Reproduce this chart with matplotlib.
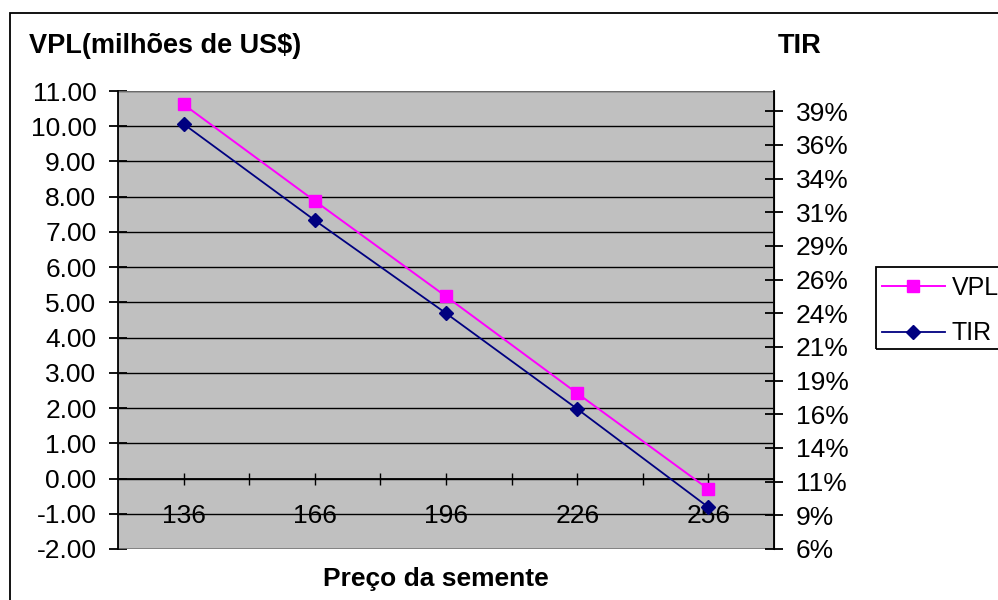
import matplotlib
matplotlib.use("Agg")
from matplotlib import pyplot as plt
from matplotlib.patches import Rectangle
from matplotlib.ticker import FixedLocator, FuncFormatter

plt.rcParams['font.family'] = ['Liberation Sans', 'DejaVu Sans']

# Seed price (x) and the two series
preco = [136, 166, 196, 226, 256]
vpl = [10.62, 7.88, 5.17, 2.42, -0.30]      # milhoes de US$
tir = [37.55, 30.4, 23.5, 16.4, 9.1]        # %

W, H = 998, 600
fig = plt.figure(figsize=(W / 100, H / 100), dpi=100)

# outer chart frame (runs off the right and bottom edges)
fig.add_artist(Rectangle((10 / W, -0.1), 1.2, (H - 13) / H + 0.1,
                         transform=fig.transFigure, fill=False,
                         edgecolor='black', linewidth=1.3))

ax = fig.add_axes([118 / W, (H - 549) / H, 656 / W, 458 / H])
ax.set_facecolor('#C0C0C0')
ax2 = ax.twinx()

# left axis: VPL
ax.set_ylim(-2, 11)
ax.set_yticks(range(-2, 12))
ax.yaxis.set_major_formatter(FuncFormatter(lambda v, p: '%.2f' % v))
ax.grid(axis='y', color='black', linewidth=1.0)
ax.set_axisbelow(True)

# x axis crosses at VPL = 0
ax.set_xlim(121, 271)
ax.xaxis.set_major_locator(FixedLocator([136 + 15 * i for i in range(9)]))
ax.xaxis.set_major_formatter(
    FuncFormatter(lambda v, p: '%d' % round(v) if round(v) in preco else ''))
ax.spines['bottom'].set_position(('data', 0))
ax.spines['top'].set_visible(False)
for s in ['left', 'bottom']:
    ax.spines[s].set_linewidth(1.3)
ax.tick_params(axis='x', direction='inout', length=9, width=1.0,
               pad=14, labelsize=19)
ax.tick_params(axis='y', direction='inout', length=13, width=1.3,
               pad=9, labelsize=19)

# plot area edge
ax.add_patch(Rectangle((0, 0), 1, 1, transform=ax.transAxes, fill=False,
                       edgecolor='#808080', linewidth=1.2, zorder=1))

# right axis: TIR
ax2.set_ylim(6, 40)
ax2.set_yticks([6 + 2.5 * i for i in range(14)])
ax2.yaxis.set_major_formatter(FuncFormatter(lambda v, p: '%d%%' % int(v + 0.5)))
ax2.tick_params(axis='y', direction='inout', length=13, width=1.3,
                pad=9, labelsize=19)
for s in ['top', 'bottom', 'left']:
    ax2.spines[s].set_visible(False)
ax2.spines['right'].set_linewidth(1.3)

l1, = ax.plot(preco, vpl, color='#FF00FF', linewidth=1.4, marker='s',
              markersize=8.7, label='VPL', zorder=3, clip_on=False)
l2, = ax2.plot(preco, tir, color='#000080', linewidth=1.3, marker='D',
               markersize=7.1, label='TIR', zorder=3, clip_on=False)

fig.text(29 / W, 1 - 46 / H, 'VPL(milhões de US$)', fontsize=19.5,
         fontweight='bold', ha='left', va='center')
fig.text(800 / W, 1 - 46 / H, 'TIR', fontsize=19.5, fontweight='bold',
         ha='center', va='center')
fig.text(436 / W, 1 - 579 / H, 'Preço da semente', fontsize=19,
         fontweight='bold', ha='center', va='center')

# legend box (cut by the right edge)
fig.add_artist(Rectangle((876 / W, (H - 349) / H), 0.3, 82 / H,
                         transform=fig.transFigure, fill=False,
                         edgecolor='black', linewidth=1.3))
fig.legend([l1, l2], ['VPL', 'TIR'], loc='upper left',
           bbox_to_anchor=(882 / W, 1 - 276 / H), frameon=False,
           borderaxespad=0, borderpad=0, handlelength=2.5,
           handletextpad=0.3, labelspacing=0.85, fontsize=18)

fig.savefig('out.png', dpi=100)
